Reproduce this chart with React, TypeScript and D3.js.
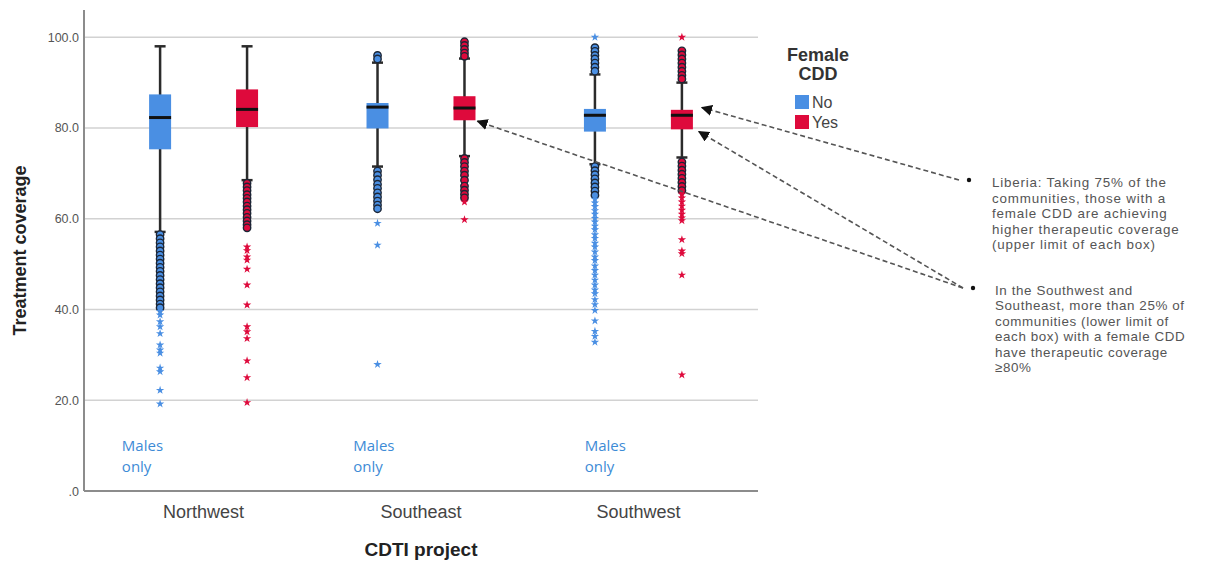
import React from 'react';
import * as d3 from 'd3';

const categories = ['Northwest', 'Southeast', 'Southwest'];
const groups = ['No', 'Yes'];
const yTicks = [0, 20, 40, 60, 80, 100];

// box statistics, one value per category
const noWhiskerLow = [57.1, 71.5, 72.0];
const noQ1 = [75.3, 79.9, 79.2];
const noMedian = [82.3, 84.6, 82.8];
const noQ3 = [87.4, 85.5, 84.2];
const noWhiskerHigh = [98.0, 94.4, 91.8];

const yesWhiskerLow = [68.5, 73.8, 73.5];
const yesQ1 = [80.2, 81.7, 79.7];
const yesMedian = [84.1, 84.4, 82.8];
const yesQ3 = [88.5, 87.0, 84.0];
const yesWhiskerHigh = [98.0, 95.3, 90.0];

// outliers (circles) and extreme values (stars)
const nwNoCircles = [56.5, 55.6, 54.7, 53.8, 52.9, 52.0, 51.1, 50.2, 49.3, 48.4, 47.5, 46.6, 45.7, 44.8, 43.9, 43.0, 42.1, 41.2, 40.4];
const nwNoStars = [39.6, 38.8, 37.3, 36.2, 34.7, 32.2, 31.1, 30.4, 27.1, 26.3, 22.2, 19.2];
const nwYesCircles = [67.8, 67.0, 66.2, 65.3, 64.5, 63.7, 62.8, 62.0, 61.2, 60.3, 59.5, 58.7, 58.0];
const nwYesStars = [53.8, 53.0, 51.6, 50.9, 48.9, 45.4, 41.0, 36.2, 35.1, 33.6, 28.7, 25.0, 19.5];
const seNoCircles = [96.0, 95.2, 70.5, 69.6, 68.6, 67.6, 66.7, 65.7, 64.8, 63.9, 63.0, 62.2];
const seNoStars = [59.0, 54.2, 27.9];
const seYesCircles = [99.0, 98.2, 97.3, 96.5, 95.8, 73.3, 72.4, 71.5, 70.5, 69.6, 68.5, 67.2, 66.3, 65.4, 64.6];
const seYesStars = [63.7, 59.8];
const swNoCircles = [97.7, 96.9, 96.0, 95.2, 94.3, 93.4, 92.5, 71.5, 70.6, 69.7, 68.8, 67.9, 67.0, 66.1, 65.2];
const swNoStars = [100.0, 64.3, 63.5, 62.7, 61.8, 61.0, 60.1, 59.3, 58.4, 57.6, 56.5, 55.7, 54.6, 53.8, 52.7, 51.6, 50.8, 49.6, 48.6, 47.6, 46.5, 45.4, 44.3, 43.5, 42.2, 41.1, 39.8, 37.5, 35.2, 34.1, 32.8];
const swYesCircles = [97.0, 96.1, 95.2, 94.3, 93.4, 92.5, 91.6, 90.8, 72.5, 71.6, 70.7, 69.8, 68.9, 68.0, 67.1, 66.2];
const swYesStars = [100.0, 65.4, 64.6, 63.7, 62.8, 61.9, 61.0, 60.2, 59.6, 55.4, 52.9, 52.3, 47.6, 25.6];

const noCircles = [nwNoCircles, seNoCircles, swNoCircles];
const noStars = [nwNoStars, seNoStars, swNoStars];
const yesCircles = [nwYesCircles, seYesCircles, swYesCircles];
const yesStars = [nwYesStars, seYesStars, swYesStars];

const note1 = [
  'Liberia: Taking 75% of the',
  'communities, those with a',
  'female CDD are achieving',
  'higher therapeutic coverage',
  '(upper limit of each box)',
];
const note2 = [
  'In the Southwest  and',
  'Southeast, more than 25% of',
  'communities (lower limit of',
  'each box) with a female CDD',
  'have therapeutic coverage',
  '\u226580%',
];

const colors: Record<string, string> = { No: '#4A8FE3', Yes: '#DE0A3C' };

export default function App() {
  const width = 1213;
  const height = 561;
  const margin = { top: 10, right: 455, bottom: 70, left: 84 };

  const x = d3.scaleBand().domain(categories).range([margin.left, width - margin.right]).paddingOuter(0.05);
  const xInner = d3.scalePoint().domain(groups).range([x.bandwidth() * 0.3, x.bandwidth() * 0.7]);
  const y = d3.scaleLinear().domain([0, 106]).range([height - margin.bottom, margin.top]);

  const boxW = 22;
  const capW = 11;
  const star = d3.symbol().type(d3.symbolStar).size(22)();

  const stats = {
    No: { lo: noWhiskerLow, q1: noQ1, med: noMedian, q3: noQ3, hi: noWhiskerHigh, circles: noCircles, stars: noStars },
    Yes: { lo: yesWhiskerLow, q1: yesQ1, med: yesMedian, q3: yesQ3, hi: yesWhiskerHigh, circles: yesCircles, stars: yesStars },
  };

  const cx = (c: string, g: string) => (x(c) as number) + (xInner(g) as number);
  const x0 = margin.left;
  const x1 = width - margin.right;
  const yBase = y(0);

  // arrow targets from the annotation bullets
  const bullet1 = { x: 969, y: 180 };
  const bullet2 = { x: 973, y: 288 };
  const arrows = [
    { from: bullet1, tx: cx('Southwest', 'Yes') + 20, ty: y(84.5) },
    { from: bullet2, tx: cx('Southwest', 'Yes') + 17, ty: y(79.2) },
    { from: bullet2, tx: cx('Southeast', 'Yes') + 13, ty: y(81.5) },
  ];

  const malesOffsets = [27, 41, 55];
  const noteFont = 'Liberation Sans, Arial, sans-serif';

  return (
    <div style={{ position: 'absolute', left: 0, top: 0 }}>
      <svg width={width} height={height} style={{ display: 'block', background: '#fff' }}>
        <defs>
          <marker id="arrowhead" viewBox="0 0 10 10" refX="9" refY="5" markerWidth="7" markerHeight="7" orient="auto-start-reverse">
            <path d="M0,0 L10,5 L0,10 z" fill="#111" />
          </marker>
        </defs>

        {/* gridlines */}
        {yTicks.filter((t) => t > 0).map((t) => (
          <line key={t} x1={x0} x2={x1} y1={y(t)} y2={y(t)} stroke="#d2d2d2" strokeWidth={1.5} />
        ))}
        {/* axes */}
        <line x1={x0} x2={x0} y1={margin.top} y2={yBase} stroke="#8c8c8c" strokeWidth={2} />
        <line x1={x0} x2={x1} y1={yBase} y2={yBase} stroke="#8c8c8c" strokeWidth={2} />
        {yTicks.map((t) => (
          <text key={t} x={x0 - 5} y={y(t) + 4.5} textAnchor="end" fontFamily="Liberation Sans, Arial" fontSize={12.5} fill="#555">
            {t === 0 ? '.0' : t.toFixed(1)}
          </text>
        ))}
        <text transform={`translate(26,${(margin.top + yBase) / 2}) rotate(-90)`} textAnchor="middle" fontFamily="Liberation Sans, Arial" fontWeight="bold" fontSize={18} fill="#222">
          Treatment coverage
        </text>
        {categories.map((c) => (
          <text key={c} x={(x(c) as number) + x.bandwidth() / 2} y={518} textAnchor="middle" fontFamily="Liberation Sans, Arial" fontSize={18} fill="#444">
            {c}
          </text>
        ))}
        <text x={(x0 + x1) / 2} y={556} textAnchor="middle" fontFamily="Liberation Sans, Arial" fontWeight="bold" fontSize={19} fill="#222">
          CDTI project
        </text>

        {/* Males only labels */}
        {categories.map((c, i) => (
          <text key={c} fontFamily="Open Sans, sans-serif" fontSize={15} fill="#3D8BD6">
            <tspan x={(x(c) as number) + malesOffsets[i]} y={451}>Males</tspan>
            <tspan x={(x(c) as number) + malesOffsets[i]} y={472}>only</tspan>
          </text>
        ))}

        {/* boxes */}
        {categories.map((c, i) =>
          groups.map((g) => {
            const s = stats[g as 'No' | 'Yes'];
            const px = cx(c, g);
            return (
              <g key={c + g}>
                <line x1={px} x2={px} y1={y(s.lo[i])} y2={y(s.hi[i])} stroke="#2b2b2b" strokeWidth={2.5} />
                <line x1={px - capW / 2} x2={px + capW / 2} y1={y(s.hi[i])} y2={y(s.hi[i])} stroke="#2b2b2b" strokeWidth={2.5} />
                <line x1={px - capW / 2} x2={px + capW / 2} y1={y(s.lo[i])} y2={y(s.lo[i])} stroke="#2b2b2b" strokeWidth={2.5} />
                <rect x={px - boxW / 2} width={boxW} y={y(s.q3[i])} height={y(s.q1[i]) - y(s.q3[i])} fill={colors[g]} />
                <line x1={px - boxW / 2} x2={px + boxW / 2} y1={y(s.med[i])} y2={y(s.med[i])} stroke="#111" strokeWidth={3} />
                {s.circles[i].map((v, k) => (
                  <circle key={'c' + k} cx={px} cy={y(v)} r={3.7} fill={colors[g]} stroke="#1c2636" strokeWidth={1.4} />
                ))}
                {s.stars[i].map((v, k) => (
                  <path key={'s' + k} d={star as string} transform={`translate(${px},${y(v)})`} fill={colors[g]} />
                ))}
              </g>
            );
          })
        )}

        {/* legend */}
        <text x={818} y={61} textAnchor="middle" fontFamily="Liberation Sans, Arial" fontWeight="bold" fontSize={18} fill="#333">Female</text>
        <text x={818} y={80} textAnchor="middle" fontFamily="Liberation Sans, Arial" fontWeight="bold" fontSize={18} fill="#333">CDD</text>
        {groups.map((g, i) => (
          <g key={g} transform={`translate(795,${95 + i * 20})`}>
            <rect width={14} height={14} fill={colors[g]} />
            <text x={17} y={13} fontFamily="Liberation Sans, Arial" fontSize={16} fill="#444">{g}</text>
          </g>
        ))}

        {/* annotations */}
        {arrows.map((a, i) => (
          <line key={i} x1={a.from.x - 10} y1={a.from.y} x2={a.tx} y2={a.ty} stroke="#555" strokeWidth={1.6} strokeDasharray="5,3" markerEnd="url(#arrowhead)" />
        ))}
        <circle cx={bullet1.x} cy={bullet1.y} r={2.2} fill="#111" />
        <circle cx={bullet2.x} cy={bullet2.y} r={2.2} fill="#111" />
        <text fontFamily={noteFont} fontSize={13.4} letterSpacing={0.8} fill="#555">
          {note1.map((t, i) => (
            <tspan key={i} x={992} y={187 + i * 15.6}>{t}</tspan>
          ))}
        </text>
        <text fontFamily={noteFont} fontSize={13.4} letterSpacing={0.6} fill="#555">
          {note2.map((t, i) => (
            <tspan key={i} x={995} y={295 + i * 15.4}>{t}</tspan>
          ))}
        </text>
      </svg>
    </div>
  );
}
